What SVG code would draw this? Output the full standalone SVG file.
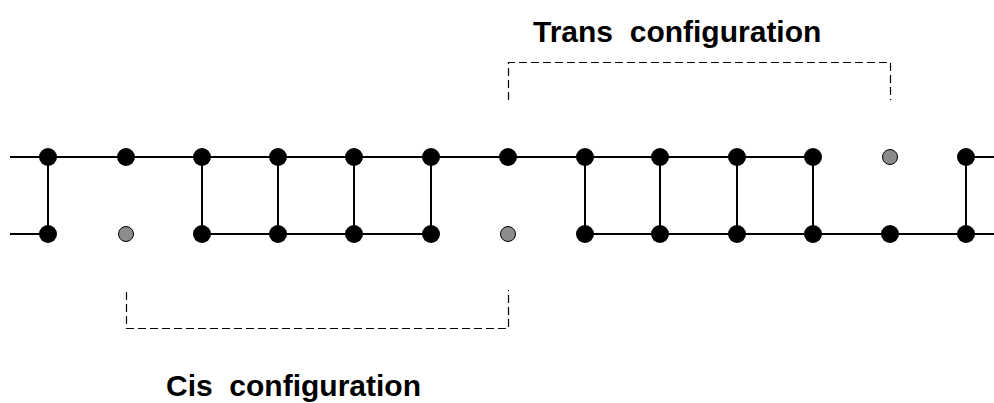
<svg xmlns="http://www.w3.org/2000/svg" width="994" height="403" viewBox="0 0 994 403">
<style>
.ln{stroke:#000;stroke-width:2;fill:none}
.dash{stroke:#000;stroke-width:1.2;fill:none;stroke-dasharray:8 4}
.b{fill:#000}
.g{fill:#8c8c8c;stroke:#000;stroke-width:1}
.t{font-family:"Liberation Sans",Arial,sans-serif;font-weight:bold;font-size:30px;fill:#000}
</style>
<rect width="994" height="403" fill="#fff"/>
<g id="connectors">
<path class="ln" d="M10 157H813M966 157H994M10 234H48M202 234H431M585 234H994"/>
<path class="ln" d="M48 157V234M202 157V234M278 157V234M354 157V234M431 157V234M585 157V234M660 157V234M737 157V234M813 157V234M966 157V234"/>
<path class="dash" d="M126.5 292V328.5H508.5V290"/>
<path class="dash" d="M508.5 100V62.5H890.5V100"/>
</g>
<g id="top-nodes">
<circle class="b" cx="48" cy="157" r="9"/>
<circle class="b" cx="126" cy="157" r="9"/>
<circle class="b" cx="202" cy="157" r="9"/>
<circle class="b" cx="278" cy="157" r="9"/>
<circle class="b" cx="354" cy="157" r="9"/>
<circle class="b" cx="431" cy="157" r="9"/>
<circle class="b" cx="508" cy="157" r="9"/>
<circle class="b" cx="585" cy="157" r="9"/>
<circle class="b" cx="660" cy="157" r="9"/>
<circle class="b" cx="737" cy="157" r="9"/>
<circle class="b" cx="813" cy="157" r="9"/>
<circle class="g" cx="890" cy="157" r="7.5"/>
<circle class="b" cx="966" cy="157" r="9"/>
</g>
<g id="bottom-nodes">
<circle class="b" cx="48" cy="234" r="9"/>
<circle class="g" cx="126" cy="234" r="7.5"/>
<circle class="b" cx="202" cy="234" r="9"/>
<circle class="b" cx="278" cy="234" r="9"/>
<circle class="b" cx="354" cy="234" r="9"/>
<circle class="b" cx="431" cy="234" r="9"/>
<circle class="g" cx="508" cy="234" r="7.5"/>
<circle class="b" cx="585" cy="234" r="9"/>
<circle class="b" cx="660" cy="234" r="9"/>
<circle class="b" cx="737" cy="234" r="9"/>
<circle class="b" cx="813" cy="234" r="9"/>
<circle class="b" cx="890" cy="234" r="9"/>
<circle class="b" cx="966" cy="234" r="9"/>
</g>
<g id="trans-label"><text class="t" x="533" y="41.5" xml:space="preserve">Trans  configuration</text></g>
<g id="cis-label"><text class="t" x="166" y="395.5" xml:space="preserve">Cis  configuration</text></g>
</svg>
